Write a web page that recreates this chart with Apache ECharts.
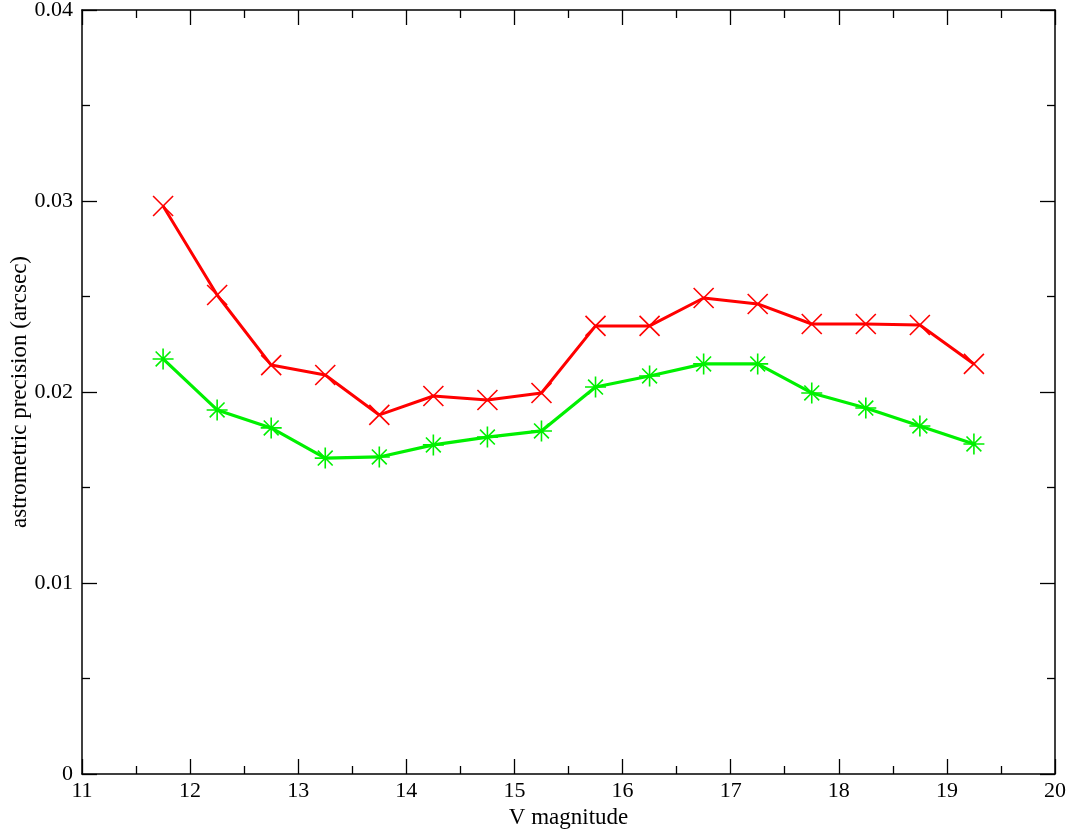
<!DOCTYPE html>
<html>
<head>
<meta charset="utf-8">
<script src="https://cdn.jsdelivr.net/npm/echarts@6/dist/echarts.min.js"></script>
<style>
  html, body { margin: 0; padding: 0; background: #fff; }
  #chart { width: 1068px; height: 832px; }
</style>
</head>
<body>
<div id="chart"></div>
<script>
// magnitude bins (bin centres)
const magnitudes = [11.75, 12.25, 12.75, 13.25, 13.75, 14.25, 14.75, 15.25,
                    15.75, 16.25, 16.75, 17.25, 17.75, 18.25, 18.75, 19.25];
// red curve (x markers)
const redPrecision = [0.02974, 0.02508, 0.02141, 0.02089, 0.01880, 0.01979, 0.01958, 0.01995,
                      0.02346, 0.02346, 0.02492, 0.02461, 0.02356, 0.02356, 0.02351, 0.02147];
// green curve (asterisk markers)
const greenPrecision = [0.02173, 0.01906, 0.01812, 0.01654, 0.01660, 0.01723, 0.01764, 0.01796,
                        0.02026, 0.02084, 0.02147, 0.02147, 0.01995, 0.01916, 0.01822, 0.01728];

const font = "Liberation Serif";
const crossSymbol = "path://M-10,-10L10,10M-10,10L10,-10";
const starSymbol = "path://M0,-10L0,10M-10,0L10,0M-7.07,-7.07L7.07,7.07M-7.07,7.07L7.07,-7.07";

function pairs(ys) {
    return magnitudes.map((x, i) => [x, ys[i]]);
}

const chart = echarts.init(document.getElementById("chart"));

const axisCommon = {
    axisLine: { show: true, onZero: false, lineStyle: { color: "#000", width: 1.5 } },
    axisTick: { show: true, inside: true, length: 15, lineStyle: { color: "#000", width: 1.3 } },
    minorTick: { show: true, splitNumber: 2, length: 8, lineStyle: { color: "#000", width: 1.3 } },
    splitLine: { show: false }
};

chart.setOption({
    animation: false,
    backgroundColor: "#fff",
    grid: { left: 82, right: 13, top: 10, bottom: 58, containLabel: false, outerBoundsMode: "none" },
    xAxis: [
        Object.assign({
            type: "value", min: 11, max: 20, interval: 1,
            name: "V magnitude", nameLocation: "middle", nameGap: 32, nameMoveOverlap: false,
            nameTextStyle: { fontFamily: font, fontSize: 23, color: "#000" },
            axisLabel: { fontFamily: font, fontSize: 22, color: "#000", margin: 6 }
        }, axisCommon),
        Object.assign({
            type: "value", min: 11, max: 20, interval: 1, position: "top",
            axisLabel: { show: false }
        }, axisCommon)
    ],
    yAxis: [
        Object.assign({
            type: "value", min: 0, max: 0.04, interval: 0.01,
            name: "astrometric precision (arcsec)", nameLocation: "middle", nameGap: 51, nameMoveOverlap: false,
            nameTextStyle: { fontFamily: font, fontSize: 23, color: "#000" },
            axisLabel: { fontFamily: font, fontSize: 22, color: "#000", margin: 9 }
        }, axisCommon),
        Object.assign({
            type: "value", min: 0, max: 0.04, interval: 0.01, position: "right",
            axisLabel: { show: false }
        }, axisCommon)
    ],
    series: [
        {
            name: "red",
            type: "line",
            data: pairs(redPrecision),
            symbol: crossSymbol,
            symbolSize: 20,
            showAllSymbol: true,
            lineStyle: { color: "#ff0000", width: 3 },
            itemStyle: { color: "rgba(0,0,0,0)", borderColor: "#ff0000", borderWidth: 1.6 }
        },
        {
            name: "green",
            type: "line",
            data: pairs(greenPrecision),
            symbol: starSymbol,
            symbolSize: 21,
            showAllSymbol: true,
            lineStyle: { color: "#00f000", width: 3.2 },
            itemStyle: { color: "rgba(0,0,0,0)", borderColor: "#00f000", borderWidth: 1.6 }
        }
    ]
});
window.onresize = chart.resize;
</script>
</body>
</html>
